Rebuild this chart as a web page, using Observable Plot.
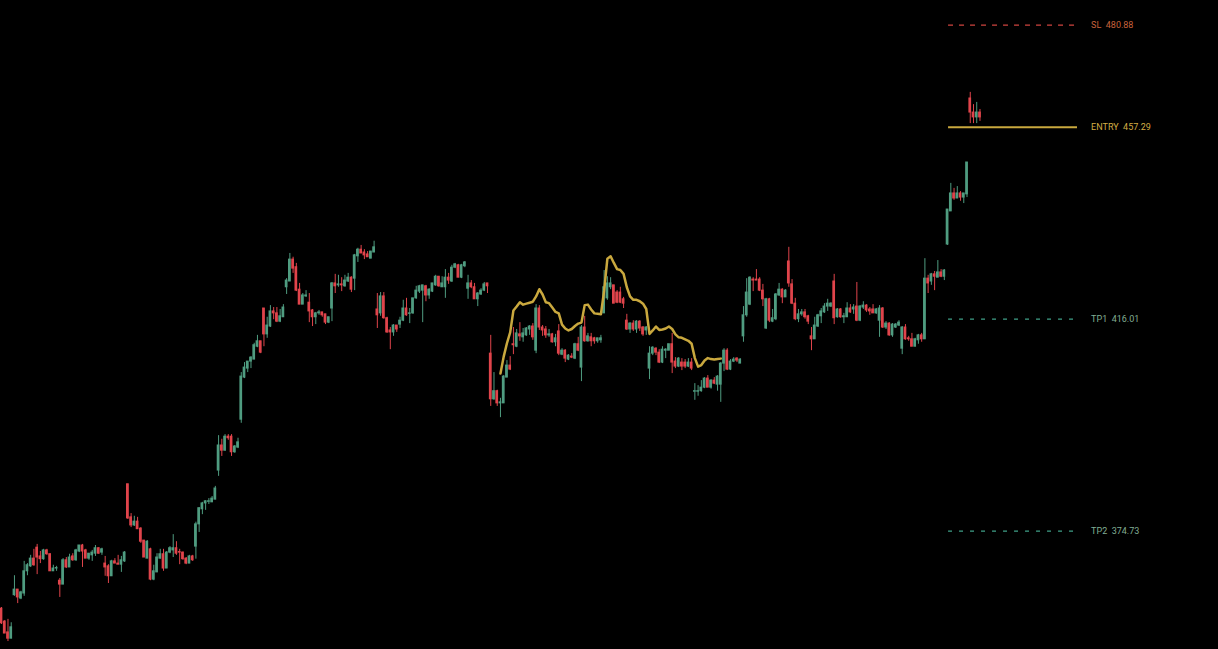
<!DOCTYPE html>
<html><head><meta charset="utf-8">
<script src="https://cdn.jsdelivr.net/npm/d3@7"></script>
<script src="https://cdn.jsdelivr.net/npm/@observablehq/plot@0.6"></script>
<style>
html,body{margin:0;padding:0;background:#000;overflow:hidden}
#chart svg{display:block}
</style></head><body><div id="chart"></div>
<script>
const opens = [360.7,358.4,356.5,355.4,363.1,364.1,362.5,363.4,367.4,368.3,
369.7,371.7,370.1,369.6,371.2,370.5,367.4,367.9,365.7,365.0,
369.4,368.1,370.1,369.4,371.0,372.1,371.2,369.7,370.3,370.6,
371.6,370.8,368.8,368.3,366.5,369.2,368.8,368.6,369.2,383.5,
377.3,375.8,376.5,375.2,373.0,369.7,371.4,365.9,367.2,369.7,
370.5,367.9,370.8,371.2,371.6,370.9,370.8,369.7,368.8,370.1,
371.9,376.0,378.8,379.9,380.2,380.1,380.6,386.1,390.9,389.9,
392.6,392.6,389.6,390.5,395.9,404.2,406.0,407.4,407.8,410.4,
411.5,418.2,412.9,414.5,417.6,417.2,415.5,416.4,422.6,423.8,
428.4,426.8,422.1,419.0,420.7,419.4,417.8,416.4,417.2,417.4,
417.0,415.3,418.2,423.4,423.0,423.2,422.8,423.8,424.6,424.4,
429.1,430.5,429.9,429.5,428.6,429.9,418.0,417.2,420.7,416.2,
413.7,413.3,414.7,414.9,415.7,418.2,417.1,417.2,420.3,421.7,
421.9,422.8,420.9,421.7,423.0,424.8,422.6,422.6,424.6,423.8,
426.7,427.2,424.6,427.0,422.3,423.4,422.6,420.1,421.1,421.9,
423.4,409.0,399.9,401.5,399.1,399.1,404.2,406.6,410.9,410.4,
412.9,412.3,412.7,413.9,414.5,409.6,418.2,414.3,413.9,412.7,
412.9,411.3,413.5,408.8,409.6,407.8,408.4,408.0,410.9,406.2,
414.3,411.5,412.3,412.1,411.5,411.7,417.2,420.3,422.6,423.0,
421.5,421.5,420.1,415.7,413.9,415.1,413.9,415.5,414.3,413.7,
406.0,409.0,410.0,409.2,407.2,409.6,409.6,410.9,407.4,406.4,
407.2,407.2,406.4,407.2,401.4,401.4,401.5,402.2,404.0,402.2,
403.6,402.8,402.8,407.0,409.6,405.8,407.4,408.0,407.0,412.5,
416.8,419.0,424.2,424.2,424.2,421.9,414.1,420.1,415.5,416.0,
420.9,422.1,420.5,428.0,423.2,419.2,416.0,417.0,417.4,416.6,
412.5,411.9,414.5,416.6,417.4,418.6,418.6,423.8,416.4,418.0,
416.4,416.4,418.2,418.0,418.6,415.7,418.4,418.8,418.0,418.0,
417.2,415.7,418.2,414.3,415.1,412.7,414.3,414.7,410.0,414.3,
412.1,411.9,410.4,411.7,412.7,411.9,424.4,423.8,425.3,424.6,
425.7,424.8,431.6,438.7,442.6,441.5,442.6,441.7,442.4,463.8,
460.6,459.5,460.6];
const highs = [360.9,358.6,358.8,358.2,366.6,364.1,363.8,369.2,368.8,370.3,
371.4,372.3,371.0,371.4,371.4,370.6,368.5,368.3,366.1,369.7,
369.9,370.5,370.6,371.4,372.1,372.3,371.4,370.6,371.2,372.1,
371.7,371.6,370.1,368.6,369.4,369.7,370.3,370.1,371.0,383.5,
378.0,377.5,377.3,375.4,373.0,373.0,371.6,368.5,370.6,371.4,
371.4,371.0,371.9,374.1,372.8,371.4,370.9,369.9,370.3,370.3,
376.4,379.1,380.1,380.4,380.8,381.2,383.1,392.8,392.1,393.0,
393.0,393.0,390.9,392.3,405.2,407.2,407.4,408.4,411.1,412.7,
411.5,418.2,416.4,418.8,418.4,418.4,418.0,419.0,424.4,429.7,
428.9,427.6,423.4,421.3,421.9,421.3,418.0,417.4,417.8,417.4,
417.0,416.4,423.6,425.3,425.1,424.6,425.1,425.5,424.8,429.5,
430.8,431.4,430.5,430.1,430.1,432.3,421.3,421.5,421.5,416.4,
414.3,414.9,414.7,416.4,419.9,420.3,418.2,420.3,422.8,423.0,
423.0,423.0,422.3,423.4,425.1,424.8,424.8,426.3,425.5,427.2,
427.6,427.4,427.4,428.0,425.1,424.0,423.4,421.5,422.3,423.6,
423.4,412.7,405.2,401.7,400.1,404.6,407.6,408.4,414.3,413.9,
415.3,414.1,414.3,414.7,415.1,419.0,418.8,414.7,414.5,413.9,
413.1,412.9,414.9,410.0,409.8,408.8,409.0,411.1,412.3,414.7,
416.6,413.1,413.1,412.3,412.1,412.7,426.1,424.8,424.6,423.0,
421.9,422.6,420.5,417.0,415.3,415.7,415.7,415.7,414.5,414.5,
410.4,410.4,410.2,409.8,410.4,410.0,410.9,413.1,408.2,408.2,
408.0,407.8,408.0,408.0,403.0,402.6,403.6,404.2,404.6,403.8,
404.2,404.6,407.2,410.0,410.0,407.8,408.2,408.2,408.0,418.6,
424.4,424.8,424.6,426.3,424.6,423.2,420.3,420.3,418.0,421.3,
423.4,422.3,422.1,431.0,424.2,420.3,418.0,418.0,418.0,416.8,
414.3,416.4,417.0,418.2,419.2,420.1,419.4,425.3,418.2,418.2,
417.2,419.4,419.0,419.0,423.6,418.8,419.6,419.0,418.4,419.0,
418.2,418.8,418.4,415.5,415.3,415.1,415.1,415.7,414.5,414.9,
412.5,413.1,412.1,412.9,413.1,428.6,425.1,425.5,425.9,428.2,
426.3,426.3,439.1,444.8,443.7,444.1,443.0,442.6,449.4,465.2,
462.4,462.9,461.3];
const lows = [357.9,356.3,354.9,355.4,362.9,361.6,362.3,362.9,366.6,368.1,
368.3,366.8,368.8,369.4,370.3,367.4,367.4,367.4,362.7,365.0,
367.9,368.1,369.2,369.2,370.8,368.1,369.7,369.4,369.2,370.1,
370.5,370.3,366.5,365.2,366.5,368.8,368.6,367.2,369.0,376.9,
375.4,375.6,375.1,372.5,369.9,369.7,365.7,365.7,367.2,369.6,
367.4,367.9,370.6,369.9,370.3,368.6,369.4,368.6,368.8,369.2,
369.6,374.5,377.8,378.6,379.7,380.1,380.6,385.0,388.8,389.8,
391.9,388.8,389.4,390.3,395.2,404.0,405.2,406.0,407.8,410.2,
409.0,410.4,412.1,414.3,415.9,415.3,415.3,416.4,421.1,423.8,
425.5,421.7,419.0,419.0,420.5,415.3,414.5,414.9,416.8,416.4,
414.9,415.1,415.5,421.3,422.6,421.7,422.6,423.6,421.5,421.9,
427.8,429.7,428.4,428.9,428.6,429.9,414.1,416.6,416.0,413.1,
409.8,412.5,413.3,414.1,415.5,416.6,415.1,417.0,420.1,421.3,
415.3,419.6,420.1,421.5,422.8,422.6,422.6,420.3,423.2,423.6,
426.5,424.6,424.4,426.7,420.1,422.3,420.1,418.6,420.9,421.7,
421.3,398.5,399.7,398.5,396.3,399.1,404.2,405.6,408.8,410.2,
411.5,411.3,412.5,412.7,411.7,409.0,413.7,412.5,412.1,412.3,
411.1,410.4,408.6,408.6,407.2,407.6,408.0,407.8,409.4,403.4,
411.3,411.3,410.4,410.9,411.1,411.1,417.2,419.9,422.1,419.2,
419.2,419.2,418.2,413.7,413.1,413.5,413.1,413.5,412.5,412.7,
403.8,408.6,408.6,407.0,407.0,408.0,409.6,405.0,406.0,406.2,
405.6,406.0,406.2,405.6,399.7,400.5,401.3,402.0,402.2,401.9,
402.8,401.5,399.3,405.4,405.6,405.6,407.2,407.2,407.0,411.3,
416.4,418.8,421.7,424.0,421.7,418.6,413.9,415.3,415.3,415.7,
420.7,419.2,420.5,422.6,419.0,415.7,415.3,416.6,416.0,414.9,
409.6,411.9,414.3,415.1,417.2,417.6,418.4,414.9,416.2,416.2,
415.1,416.4,417.2,417.0,415.5,415.5,418.0,417.4,416.8,417.2,
417.0,412.3,414.1,413.9,412.5,412.3,414.1,414.5,408.8,411.7,
411.5,410.4,410.4,410.9,411.3,411.9,421.3,423.0,421.9,424.6,
424.6,424.0,431.4,438.7,441.1,441.5,440.9,440.4,441.7,458.1,
458.1,458.1,458.6];
const closes = [358.1,356.3,355.4,357.4,364.1,362.7,363.6,367.4,368.5,369.7,
368.5,369.9,369.6,371.2,370.5,367.4,367.9,368.0,365.0,369.4,
368.1,369.9,369.4,371.2,372.1,371.0,369.7,370.6,370.8,371.6,
370.6,371.4,368.1,366.5,369.2,368.8,368.6,369.4,370.8,377.1,
375.8,376.5,375.1,372.8,369.9,372.8,365.9,367.4,369.9,370.5,
367.9,370.8,371.6,371.6,370.6,370.8,369.6,368.8,370.1,369.4,
376.0,379.0,379.9,380.3,380.3,380.8,382.7,390.9,389.9,392.6,
392.3,389.6,390.7,391.5,404.4,406.2,407.4,408.2,410.7,411.5,
409.2,412.9,414.7,417.6,417.2,415.5,416.6,418.4,424.0,428.4,
426.5,421.9,419.0,420.9,420.9,417.6,416.4,417.2,417.4,416.8,
415.3,416.4,423.4,422.8,423.2,423.0,424.0,424.6,422.1,429.3,
430.5,429.7,429.3,428.9,430.1,431.0,416.8,420.7,416.2,413.3,
413.3,414.7,413.9,415.7,418.2,416.8,417.2,420.3,421.9,422.8,
423.0,420.9,422.1,423.4,424.8,422.8,423.4,424.6,424.0,426.7,
427.4,424.6,427.2,427.8,423.4,422.6,420.1,421.3,421.9,423.2,
422.8,399.9,401.5,399.1,399.3,404.4,406.6,405.8,410.7,413.1,
412.5,413.1,414.1,414.5,412.3,418.2,414.3,413.7,412.7,412.9,
411.3,412.1,409.0,409.6,408.0,408.6,408.2,410.9,409.6,414.3,
411.5,412.5,411.5,411.5,412.1,412.1,422.6,423.4,423.4,419.2,
419.4,419.4,419.2,413.9,415.1,413.9,415.5,414.1,412.9,414.3,
409.0,410.2,409.2,407.2,409.8,409.8,410.9,407.2,406.4,408.0,
406.4,406.4,407.2,406.0,401.5,401.5,402.2,404.0,402.2,403.6,
403.0,404.4,407.0,409.6,405.8,407.4,407.8,407.6,407.8,416.8,
421.5,424.6,424.0,424.0,421.9,420.1,420.1,415.7,416.2,421.1,
422.1,420.5,421.9,423.4,419.2,416.0,417.0,417.4,416.4,415.5,
411.9,414.7,416.8,417.6,418.6,419.2,419.2,416.2,418.0,416.4,
416.6,418.2,417.4,418.4,415.7,418.6,418.8,417.8,417.6,417.2,
418.0,418.2,414.3,415.1,412.7,414.9,414.9,415.3,414.3,411.9,
411.9,410.4,411.9,412.7,411.9,424.4,423.4,425.3,424.8,425.7,
424.8,426.1,439.1,442.6,441.5,442.6,441.7,442.6,449.4,460.6,
459.5,460.6,459.5];

// moving-average style gold line, starting at candle index maStartIndex
const maStartIndex = 154;
const maValues = [405.0,408.4,411.1,413.3,417.8,418.6,419.5,419.0,419.2,419.4,
419.6,420.7,422.2,421.1,419.5,419.3,418.4,417.5,417.2,414.9,
414.1,413.7,414.0,414.6,415.1,415.3,418.9,419.0,418.0,417.2,
417.1,417.0,421.9,428.6,429.1,427.7,426.4,426.2,425.4,422.6,
420.7,420.0,420.0,419.7,419.2,418.1,413.0,413.7,414.5,413.8,
413.9,414.1,414.5,414.0,412.9,412.3,412.2,411.9,411.6,411.0,
408.1,406.4,406.7,407.6,408.1,407.9,407.8,407.9,408.0];

const levelNames = ["SL", "ENTRY", "TP1", "TP2"];
const levelValues = [480.88, 457.29, 416.01, 374.73];

// styles
const GREEN = "#4f9c80", RED = "#e0444b", GOLD = "#c9a83e";
const levelStyle = {
  SL:    {stroke: "#d0443f", text: "#c8623c", dash: "5,6", width: 1.2},
  ENTRY: {stroke: "#c9a83e", text: "#d4ad44", dash: null, width: 2},
  TP1:   {stroke: "#3fa088", text: "#80ae94", dash: "4,7", width: 1.2},
  TP2:   {stroke: "#3fa088", text: "#80ae94", dash: "4,7", width: 1.2}
};

const candles = opens.map((o, i) => ({
  i, open: o, close: closes[i],
  high: Math.max(highs[i], o, closes[i]),
  low: Math.min(lows[i], o, closes[i]),
  up: closes[i] >= o
}));
const upC = candles.filter(d => d.up);
const downC = candles.filter(d => !d.up);
const ma = maValues.map((v, k) => ({i: maStartIndex + k, v}));
const levels = levelNames.map((name, k) => ({name, value: levelValues[k], st: levelStyle[name]}));
const n = candles.length;

const bodyHalf = 0.42;
function candleMarks(data, color) {
  return [
    Plot.ruleX(data, {x: "i", y1: "low", y2: "high", stroke: color, strokeWidth: 1}),
    Plot.rect(data, {
      x1: d => d.i - bodyHalf, x2: d => d.i + bodyHalf,
      y1: d => Math.min(d.open, d.close), y2: d => Math.max(d.open, d.close),
      fill: color, insetTop: -0.5, insetBottom: -0.5, insetLeft: 0, insetRight: 0
    })
  ];
}

const levelMarks = levels.map(l => Plot.ruleY([l], {
  y: "value", x1: () => n - 10.7, x2: () => n + 29.1,
  stroke: l.st.stroke, strokeWidth: l.st.width,
  strokeDasharray: l.st.dash || undefined
}));
const labelMarks = levels.map(l => Plot.text([l], {
  x: () => n + 33.3, y: "value",
  text: d => d.name + "\u00a0\u00a0" + d.value.toFixed(2),
  fill: l.st.text, textAnchor: "start", fontSize: 9, fontFamily: "Roboto, sans-serif"
}));

const chart = Plot.plot({
  width: 1218, height: 649,
  marginTop: 0, marginBottom: 0, marginLeft: 0, marginRight: 0,
  style: {background: "#000", overflow: "visible"},
  x: {type: "linear", domain: [-0.31, 375.62], axis: null},
  y: {type: "log", domain: [353.51, 486.75], axis: null},
  marks: [
    ...candleMarks(upC, GREEN),
    ...candleMarks(downC, RED),
    Plot.line(ma, {x: "i", y: "v", stroke: GOLD, strokeWidth: 2.5, strokeLinejoin: "round"}),
    ...levelMarks,
    ...labelMarks
  ]
});
document.getElementById("chart").appendChild(chart);
</script>
</body></html>
